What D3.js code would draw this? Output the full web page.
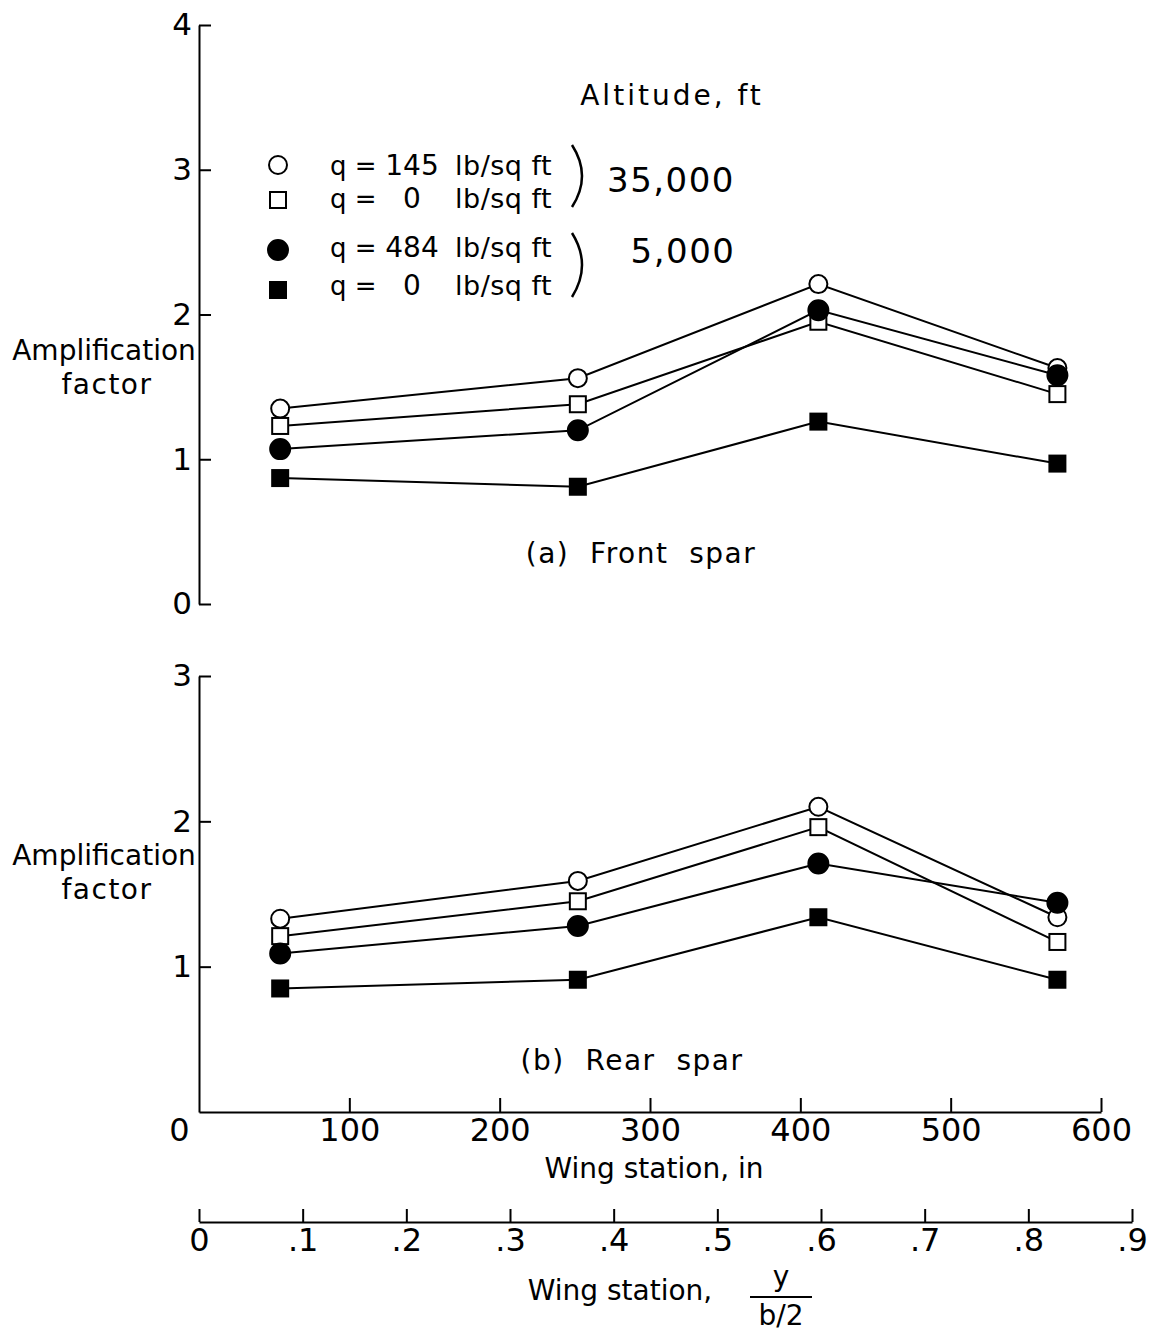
<!DOCTYPE html>
<html>
<head>
<meta charset="utf-8">
<script src="https://cdn.jsdelivr.net/npm/d3@7"></script>
<style>
  html, body { margin: 0; padding: 0; background: #fff; }
  text { font-family: "DejaVu Sans", sans-serif; fill: #000; }
</style>
</head>
<body>
<script>
// ---------- DATA ----------
const wingStationIn = [54, 252, 412, 571];

// (a) Front spar
const frontQ145Alt35000 = [1.35, 1.56, 2.21, 1.63];
const frontQ0Alt35000   = [1.23, 1.38, 1.95, 1.45];
const frontQ484Alt5000  = [1.07, 1.20, 2.03, 1.58];
const frontQ0Alt5000    = [0.87, 0.81, 1.26, 0.97];

// (b) Rear spar
const rearQ145Alt35000 = [1.33, 1.59, 2.10, 1.34];
const rearQ0Alt35000   = [1.21, 1.45, 1.96, 1.17];
const rearQ484Alt5000  = [1.09, 1.28, 1.71, 1.44];
const rearQ0Alt5000    = [0.85, 0.91, 1.34, 0.91];

const legendQ = ["145", "0", "484", "0"];
const altitudes = ["35,000", "5,000"];
const xTicksIn = [0, 100, 200, 300, 400, 500, 600];
const xTicksFrac = [0, 0.1, 0.2, 0.3, 0.4, 0.5, 0.6, 0.7, 0.8, 0.9];
const yTicksTop = [0, 1, 2, 3, 4];
const yTicksBot = [1, 2, 3];

// ---------- SETUP ----------
const W = 1149, H = 1331;
const svg = d3.select("body").append("svg")
  .attr("width", W).attr("height", H)
  .style("background", "#fff");

const x = d3.scaleLinear().domain([0, 600]).range([199, 1101]);
const xFrac = d3.scaleLinear().domain([0, 0.9]).range([199, 1132]);
const yTop = d3.scaleLinear().domain([0, 4]).range([604, 25]);
const yBot = d3.scaleLinear().domain([0, 3]).range([1112, 676]);

const styles = [
  { shape: "circle", filled: false },
  { shape: "square", filled: false },
  { shape: "circle", filled: true },
  { shape: "square", filled: true }
];
const frontSeries = [frontQ145Alt35000, frontQ0Alt35000, frontQ484Alt5000, frontQ0Alt5000];
const rearSeries = [rearQ145Alt35000, rearQ0Alt35000, rearQ484Alt5000, rearQ0Alt5000];

function styleAxis(g, fs) {
  g.selectAll("path.domain").attr("stroke", "#000").attr("stroke-width", 2);
  g.selectAll(".tick line").attr("stroke", "#000").attr("stroke-width", 2);
  g.selectAll(".tick text").attr("font-size", fs).attr("font-family", "DejaVu Sans").attr("fill", "#000");
}

function drawMarker(g, cx, cy, st) {
  if (st.shape === "circle") {
    const r = st.filled ? 10 : 9;
    g.append("circle").attr("cx", cx).attr("cy", cy).attr("r", r)
      .attr("fill", st.filled ? "#000" : "#fff").attr("stroke", "#000").attr("stroke-width", 2);
  } else {
    const s = 16;
    g.append("rect").attr("x", cx - s / 2).attr("y", cy - s / 2).attr("width", s).attr("height", s)
      .attr("fill", st.filled ? "#000" : "#fff").attr("stroke", "#000").attr("stroke-width", 2);
  }
}

function drawPanel(series, yScale) {
  const g = svg.append("g");
  const line = d3.line().x((d, i) => x(wingStationIn[i])).y(d => yScale(d));
  series.forEach(vals => {
    g.append("path").attr("d", line(vals)).attr("fill", "none")
      .attr("stroke", "#000").attr("stroke-width", 2);
  });
  series.forEach((vals, si) => {
    vals.forEach((v, i) => drawMarker(g, x(wingStationIn[i]), yScale(v), styles[si]));
  });
}

// ---------- AXES ----------
const gyTop = svg.append("g").attr("transform", "translate(199,0)")
  .call(d3.axisLeft(yTop).tickValues(yTicksTop).tickSize(-12).tickSizeOuter(0).tickPadding(7).tickFormat(d3.format("d")));
styleAxis(gyTop, 31);

const gyBot = svg.append("g").attr("transform", "translate(199,0)")
  .call(d3.axisLeft(yBot).tickValues(yTicksBot).tickSize(-12).tickSizeOuter(0).tickPadding(7).tickFormat(d3.format("d")));
styleAxis(gyBot, 31);

const gx = svg.append("g").attr("transform", "translate(0,1112)")
  .call(d3.axisBottom(x).tickValues(xTicksIn).tickSize(-14).tickSizeOuter(0).tickPadding(6).tickFormat(d3.format("d")));
styleAxis(gx, 32);
gx.selectAll(".tick text").filter(d => d === 0).attr("dx", -20);
gx.selectAll(".tick line").filter(d => d === 0).remove();

const gxf = svg.append("g").attr("transform", "translate(0,1222)")
  .call(d3.axisBottom(xFrac).tickValues(xTicksFrac).tickSize(-13).tickSizeOuter(0).tickPadding(6)
    .tickFormat(d => d === 0 ? "0" : d3.format(".1f")(d).replace(/^0/, "")));
styleAxis(gxf, 32);

// ---------- PANELS ----------
drawPanel(frontSeries, yTop);
drawPanel(rearSeries, yBot);

// ---------- LABELS ----------
function label(txt, xx, yy, fs, anchor, ls) {
  return svg.append("text").attr("x", xx).attr("y", yy).attr("font-size", fs)
    .attr("text-anchor", anchor || "middle").attr("letter-spacing", ls || 0)
    .style("white-space", "pre").text(txt);
}
label("Amplification", 104, 360, 28);
label("factor", 107, 394, 28, "middle", 1.5);
label("Amplification", 104, 865, 28);
label("factor", 107, 899, 28, "middle", 1.5);

label("(a)  Front  spar", 641, 563, 28, "middle", 1.5);
label("(b)  Rear  spar", 632, 1070, 28, "middle", 1.5);

label("Wing station, in", 654, 1178, 28);
label("Wing station,", 620, 1300, 28);
label("y", 781, 1286, 28);
svg.append("line").attr("x1", 750).attr("x2", 812).attr("y1", 1297).attr("y2", 1297)
  .attr("stroke", "#000").attr("stroke-width", 2);
label("b/2", 781, 1325, 28);

// Legend
label("Altitude, ft", 672, 105, 28, "middle", 3);
const legMarkerY = [165, 200, 250, 290];
const legTextY = [175, 208, 257, 295];
legendQ.forEach((q, i) => {
  drawMarker(svg, 278, legMarkerY[i], styles[i]);
  label("q =", 330, legTextY[i], 26, "start");
  label(q, 412, legTextY[i], 28, "middle");
  label("lb/sq ft", 455, legTextY[i], 27, "start", 0.5);
});
// brackets
const br = [[145, 207], [233, 297]];
br.forEach(([a, b]) => {
  svg.append("path")
    .attr("d", `M572,${a} Q592,${(a + b) / 2} 572,${b}`)
    .attr("fill", "none").attr("stroke", "#000").attr("stroke-width", 2.5);
});
label(altitudes[0], 671, 192, 34, "middle", 1.5);
label(altitudes[1], 683, 263, 34, "middle", 1.5);
</script>
</body>
</html>
